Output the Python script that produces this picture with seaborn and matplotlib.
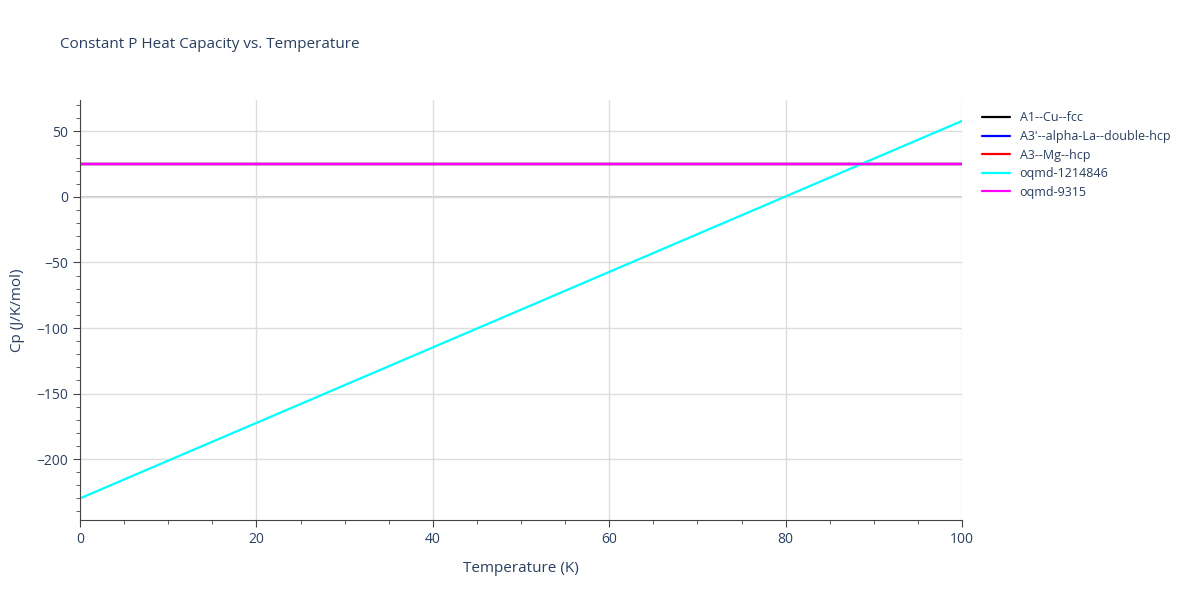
import matplotlib
matplotlib.use("Agg")
import matplotlib.pyplot as plt
import seaborn as sns
import pandas as pd
from matplotlib.ticker import MultipleLocator

# Data
temperature = [0, 100]
series_names = ["A1--Cu--fcc", "A3'--alpha-La--double-hcp", "A3--Mg--hcp", "oqmd-1214846", "oqmd-9315"]
cu_fcc = [24.9, 24.9]
la_dhcp = [24.9, 24.9]
mg_hcp = [24.9, 24.9]
oqmd_1214846 = [-230, 58]
oqmd_9315 = [24.9, 24.9]
colors = ["black", "blue", "red", "cyan", "magenta"]

rows = []
for name, vals in zip(series_names, [cu_fcc, la_dhcp, mg_hcp, oqmd_1214846, oqmd_9315]):
    for t, v in zip(temperature, vals):
        rows.append({"Temperature": t, "Cp": v, "series": name})
df = pd.DataFrame(rows)

sns.set_style("white")
plt.rcParams['font.family'] = ['Open Sans', 'DejaVu Sans']
fig = plt.figure(figsize=(12, 6), dpi=100)
ax = fig.add_axes([80 / 1200, 80 / 600, 882 / 1200, 420 / 600])

sns.lineplot(data=df, x="Temperature", y="Cp", hue="series", hue_order=series_names,
             palette=colors, linewidth=1.6, ax=ax)

ax.set_xlim(0, 100)
ax.set_ylim(-246.5, 74)
ax.xaxis.set_major_locator(MultipleLocator(20))
ax.yaxis.set_major_locator(MultipleLocator(50))
ax.xaxis.set_minor_locator(MultipleLocator(5))
ax.yaxis.set_minor_locator(MultipleLocator(10))
ax.grid(True, which="major", color="#dddddd", linewidth=1)
ax.axhline(0, color="#cccccc", linewidth=1.5, zorder=0)
for s in ["top", "right"]:
    ax.spines[s].set_visible(False)
for s in ["left", "bottom"]:
    ax.spines[s].set_color("#444444")
ax.tick_params(axis="both", which="major", direction="out", length=5, color="#444444",
               labelsize=10, labelcolor="#2a3f5f", bottom=True, left=True)
ax.tick_params(axis="both", which="minor", direction="out", length=3, color="#444444",
               bottom=True, left=True)
ax.set_yticks([-200, -150, -100, -50, 0, 50])
ax.set_yticklabels(["\u2212200", "\u2212150", "\u2212100", "\u221250", "0", "50"])
ax.set_xlabel("Temperature (K)", fontsize=11, color="#2a3f5f", labelpad=10)
ax.set_ylabel("Cp (J/K/mol)", fontsize=11, color="#2a3f5f", labelpad=8)

fig.text(60 / 1200, 1 - 45 / 600, "Constant P Heat Capacity vs. Temperature",
         fontsize=11, color="#2a3f5f", va="center")
leg = ax.legend(loc="upper left", bbox_to_anchor=(1.01, 1.0), frameon=False,
                fontsize=9, handlelength=2.2, labelspacing=0.45)
for t in leg.get_texts():
    t.set_color("#2a3f5f")

fig.savefig("out.png", dpi=100)
